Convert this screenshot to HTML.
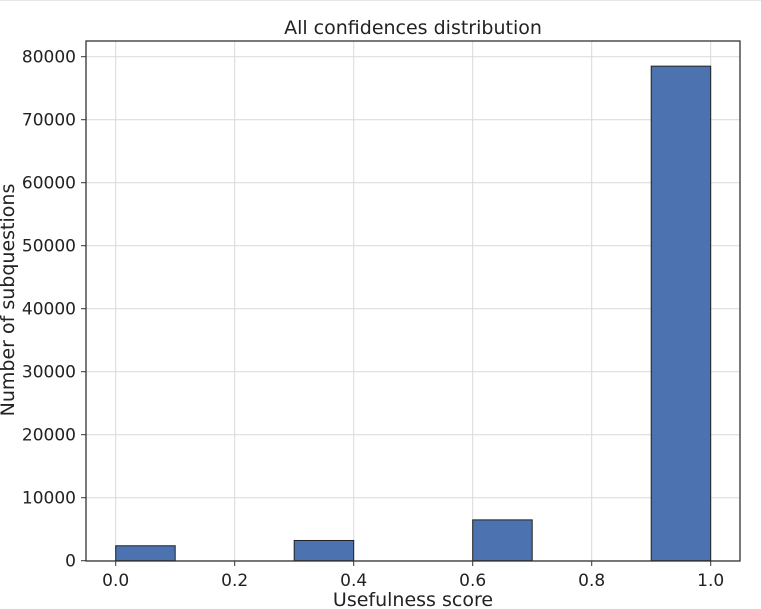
<!DOCTYPE html>
<html><head><meta charset="utf-8"><style>
body{margin:0;background:#fff;}
svg{display:block;font-family:"DejaVu Sans","Liberation Sans",sans-serif;}
</style></head><body>
<svg id="chart" width="761" height="609">
<line x1="0" y1="0.5" x2="761" y2="0.5" stroke="#e6e6e6"/>
<g id="grid"></g><g id="bars"></g><g id="axes"></g>
<text x="413" y="34" font-size="19" text-anchor="middle" fill="#222">All confidences distribution</text>
<text x="413" y="606" font-size="19" text-anchor="middle" fill="#222">Usefulness score</text>
<text transform="translate(14,300) rotate(-90)" font-size="19" text-anchor="middle" fill="#222">Number of subquestions</text>
</svg>
<script>
const binStarts=[0,0.1,0.2,0.3,0.4,0.5,0.6,0.7,0.8,0.9];
const counts=[2370,0,0,3210,0,0,6480,0,0,78500];
const xTicks=[0,0.2,0.4,0.6,0.8,1.0];
const xTickLabels=["0.0","0.2","0.4","0.6","0.8","1.0"];
const yTicks=[0,10000,20000,30000,40000,50000,60000,70000,80000];
const binWidth=0.1;
const L=86,R=740,T=41,B=561;
const xs=v=>115.7+v*595;
const ys=v=>560.7-v*504/80000;
const NS="http://www.w3.org/2000/svg";
function mk(parent,tag,attrs){const e=document.createElementNS(NS,tag);for(const k in attrs)e.setAttribute(k,attrs[k]);document.getElementById(parent).appendChild(e);return e;}
xTicks.forEach((t,i)=>{
 const g=mk('grid','line',{x1:xs(t),x2:xs(t),y1:T,y2:B,stroke:'#d9d9d9','stroke-width':1});
 
 
 const tk=mk('axes','line',{x1:xs(t),x2:xs(t),y1:B,y2:B+5,stroke:'#333'});
 
 
 const lb=mk('axes','text',{x:xs(t),y:B+25,'font-size':17,'text-anchor':'middle',fill:'#222'});
 lb.textContent=xTickLabels[i];
 
 
});
yTicks.forEach(t=>{
 const g=mk('grid','line',{x1:L,x2:R,y1:ys(t),y2:ys(t),stroke:'#d9d9d9','stroke-width':1});
 
 
 const tk=mk('axes','line',{x1:L-5,x2:L,y1:ys(t),y2:ys(t),stroke:'#333'});
 
 
 const lb=mk('axes','text',{x:L-10,y:ys(t)+6,'font-size':17,'text-anchor':'end',fill:'#222'});
 lb.textContent=String(t);
 
 
});
binStarts.forEach((s,i)=>{
 if(counts[i]<=0)return;
 const r=mk('bars','rect',{x:xs(s),y:ys(counts[i]),width:xs(s+binWidth)-xs(s),height:ys(0)-ys(counts[i]),fill:'#4c72b0',stroke:'#222','stroke-width':1});
 
 
});
const fr=mk('axes','rect',{x:L,y:T,width:R-L,height:B-T,fill:'none',stroke:'#333','stroke-width':1.3});


</script>
</body></html>
